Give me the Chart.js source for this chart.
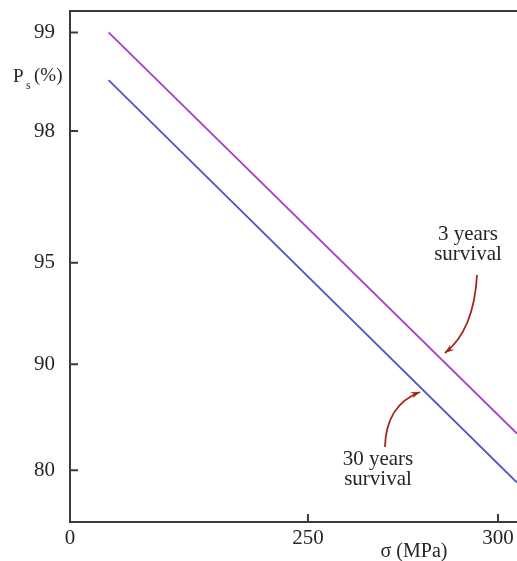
<!DOCTYPE html>
<html>
<head>
<meta charset="utf-8">
<script src="https://cdn.jsdelivr.net/npm/chart.js@4.4.0/dist/chart.umd.min.js"></script>
<style>
  body { margin: 0; background: #fff; }
</style>
</head>
<body>
<canvas id="weibull_chart" width="517" height="561"></canvas>
<script>
// stress (MPa) at the two ends of each line
const sigma = [206.5, 305.5];
// survival probability (%)
const surv3 = [99.0, 84.2];
const surv30 = [98.6, 78.4];

const yTicks = [99, 98, 95, 90, 80];
const xTicks = [199, 250, 300];
const xTickLabels = ["0", "250", "300"];

const xMin = 199, xMax = 305.5;
const yMin = 72.5, yMax = 99.14;

// weibull probability axis: -ln(-ln(Ps))
function weib(p) {
  return -Math.log(-Math.log(p / 100));
}

function pts(ps) {
  let out = [];
  for (let i = 0; i < sigma.length; i++) {
    out[i] = { x: sigma[i], y: weib(ps[i]) };
  }
  return out;
}

const serif = "'Liberation Serif', 'DejaVu Serif', serif";
const axisColor = "#3a3a3a";
const textColor = "#262626";
const noteColor = "#a3261a";

function arrow(ctx, x0, y0, cx, cy, x1, y1) {
  ctx.beginPath();
  ctx.moveTo(x0, y0);
  ctx.quadraticCurveTo(cx, cy, x1, y1);
  ctx.stroke();
  let a = Math.atan2(y1 - cy, x1 - cx);
  ctx.beginPath();
  ctx.moveTo(x1, y1);
  ctx.lineTo(x1 - 10 * Math.cos(a - 0.35), y1 - 10 * Math.sin(a - 0.35));
  ctx.lineTo(x1 - 6 * Math.cos(a), y1 - 6 * Math.sin(a));
  ctx.lineTo(x1 - 10 * Math.cos(a + 0.35), y1 - 10 * Math.sin(a + 0.35));
  ctx.closePath();
  ctx.fill();
}

const frame = {
  id: "frame",
  afterDraw(chart) {
    const ctx = chart.ctx;
    const a = chart.chartArea;
    const xs = chart.scales.x;
    const ys = chart.scales.y;
    ctx.save();
    ctx.strokeStyle = axisColor;
    ctx.lineWidth = 2;
    ctx.beginPath();
    ctx.moveTo(chart.width, a.top);
    ctx.lineTo(a.left, a.top);
    ctx.lineTo(a.left, a.bottom);
    ctx.lineTo(chart.width, a.bottom);
    ctx.stroke();

    // inward ticks
    ctx.beginPath();
    yTicks.forEach((v) => {
      let y = ys.getPixelForValue(weib(v));
      ctx.moveTo(a.left, y);
      ctx.lineTo(a.left + 8, y);
    });
    xTicks.slice(1).forEach((v) => {
      let x = xs.getPixelForValue(v);
      ctx.moveTo(x, a.bottom);
      ctx.lineTo(x, a.bottom - 8);
    });
    ctx.stroke();

    // axis titles
    ctx.fillStyle = textColor;
    ctx.textBaseline = "alphabetic";
    ctx.textAlign = "left";
    ctx.font = "19px " + serif;
    ctx.fillText("P", 13, 82);
    ctx.font = "12px " + serif;
    ctx.fillText("s", 26, 89);
    ctx.font = "19px " + serif;
    ctx.fillText("(%)", 34, 81);
    ctx.textAlign = "center";
    ctx.font = "20px " + serif;
    ctx.fillText("\u03C3 (MPa)", 414, 557);

    // notes
    ctx.font = "21px " + serif;
    ctx.fillText("3 years", 468, 240);
    ctx.fillText("survival", 468, 260);
    ctx.fillText("30 years", 378, 465);
    ctx.fillText("survival", 378, 485);

    ctx.strokeStyle = noteColor;
    ctx.fillStyle = noteColor;
    ctx.lineWidth = 1.8;
    arrow(ctx, 477, 275, 474, 330, 445, 353);
    arrow(ctx, 385, 447, 386, 405, 420, 392);
    ctx.restore();
  },
};

let ctxEl = document.getElementById("weibull_chart");
let chart = new Chart(ctxEl, {
  type: "line",
  data: {
    datasets: [
      {
        label: "3 years survival",
        data: pts(surv3),
        borderColor: "#a43fc8",
        borderWidth: 1.8,
        pointRadius: 0,
        fill: false,
      },
      {
        label: "30 years survival",
        data: pts(surv30),
        borderColor: "#5252c8",
        borderWidth: 1.8,
        pointRadius: 0,
        fill: false,
      },
    ],
  },
  options: {
    responsive: false,
    animation: false,
    layout: { autoPadding: false, padding: { top: 11, right: 0, left: 0, bottom: 0 } },
    plugins: {
      legend: { display: false },
      tooltip: { enabled: false },
    },
    scales: {
      x: {
        type: "logarithmic",
        min: xMin,
        max: xMax,
        grid: { display: false, drawTicks: false },
        border: { display: false },
        afterBuildTicks: (s) => {
          s.ticks = xTicks.map((v) => ({ value: v }));
        },
        afterFit: (s) => {
          s.height = 39;
          s.paddingLeft = 0;
          s.paddingRight = 0;
        },
        ticks: {
          padding: 4,
          color: textColor,
          font: { family: serif, size: 21 },
          maxRotation: 0,
          autoSkip: false,
          callback: (v) => xTickLabels[xTicks.indexOf(v)],
        },
      },
      y: {
        type: "linear",
        min: weib(yMin),
        max: weib(yMax),
        grid: { display: false, drawTicks: false },
        border: { display: false },
        afterBuildTicks: (s) => {
          s.ticks = yTicks.map((v) => ({ value: weib(v), label: String(v) }));
        },
        afterFit: (s) => {
          s.width = 70;
          s.paddingTop = 0;
          s.paddingBottom = 0;
        },
        ticks: {
          padding: 15,
          color: textColor,
          font: { family: serif, size: 21 },
          autoSkip: false,
          callback: (v, i) => String(yTicks[i]),
        },
      },
    },
  },
  plugins: [frame],
});
</script>
</body>
</html>
